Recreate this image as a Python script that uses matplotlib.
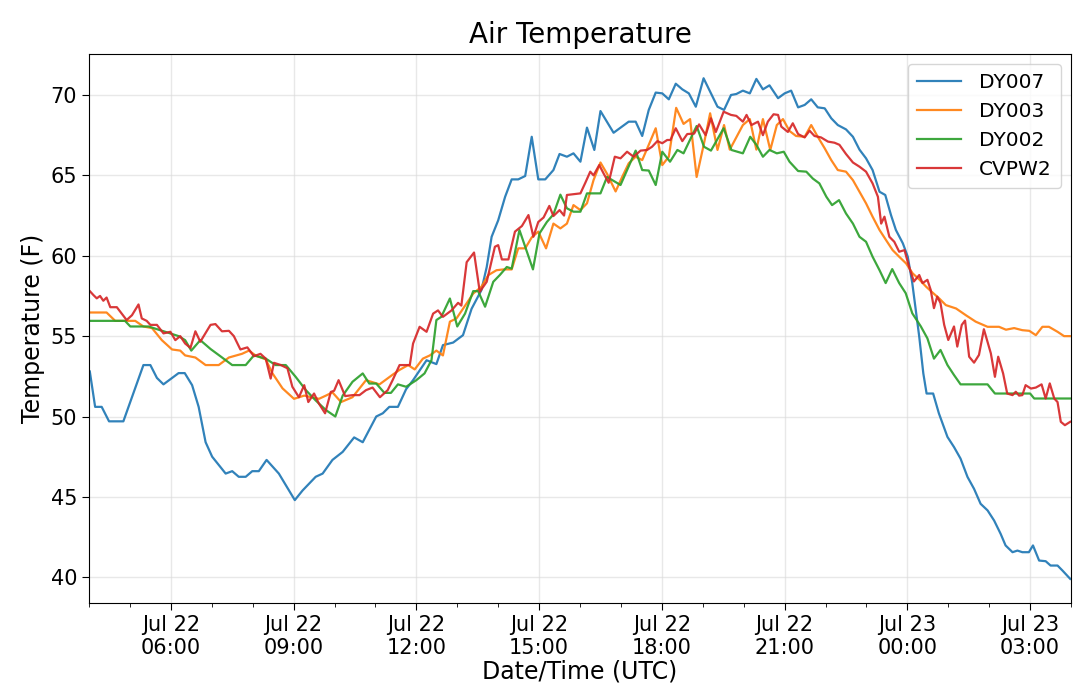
import matplotlib
matplotlib.use("Agg")
import matplotlib.pyplot as plt
import matplotlib.dates as mdates
import pandas as pd

BASE = pd.Timestamp("2019-07-22 00:00")

# hours since Jul 22 00:00 UTC, temperature (F)
dy007_h = [4.02,4.15,4.31,4.49,4.84,5.33,5.50,5.66,5.82,6.19,6.34,6.52,6.68,6.85,7.01,7.34,7.50,7.66,7.83,7.99,8.15,8.34,8.64,9.03,9.22,9.54,9.71,9.95,10.20,10.48,10.69,11.02,11.18,11.34,11.55,11.75,11.92,12.25,12.49,12.65,12.90,13.14,13.35,13.59,13.72,13.84,14.00,14.17,14.33,14.49,14.66,14.82,14.98,15.15,15.35,15.50,15.68,15.84,16.01,16.17,16.35,16.50,16.82,17.19,17.36,17.52,17.68,17.85,18.01,18.17,18.34,18.50,18.66,18.83,19.02,19.20,19.36,19.52,19.69,19.82,19.98,20.15,20.31,20.47,20.63,20.84,21.00,21.16,21.33,21.49,21.65,21.81,21.98,22.14,22.30,22.50,22.67,22.83,22.99,23.15,23.32,23.46,23.60,23.72,23.89,24.01,24.12,24.29,24.39,24.47,24.63,24.77,24.98,25.14,25.30,25.47,25.63,25.79,25.96,26.12,26.28,26.40,26.57,26.69,26.81,26.97,27.07,27.22,27.38,27.50,27.67,27.79,27.87,27.98]
dy007_v = [52.8,50.6,50.6,49.7,49.7,53.2,53.2,52.4,52.0,52.7,52.7,51.95,50.6,48.4,47.5,46.45,46.6,46.25,46.25,46.6,46.6,47.3,46.45,44.8,45.4,46.25,46.45,47.3,47.8,48.7,48.4,50.0,50.2,50.6,50.6,51.7,52.26,53.5,53.26,54.44,54.6,55.06,56.7,57.86,59.3,61.18,62.2,63.67,64.75,64.75,64.96,67.4,64.75,64.75,65.33,66.33,66.16,66.37,65.85,67.97,66.58,69.0,67.65,68.34,68.34,67.45,69.07,70.15,70.1,69.73,70.7,70.35,70.1,69.27,71.04,70.1,69.27,69.07,70.0,70.06,70.27,70.1,71.0,70.35,70.6,69.8,70.1,70.27,69.23,69.38,69.73,69.23,69.17,68.55,68.13,67.86,67.4,66.6,66.06,65.33,63.98,63.78,62.53,61.6,60.77,59.94,58.3,54.97,52.68,51.43,51.43,50.2,48.73,48.1,47.38,46.24,45.5,44.57,44.16,43.53,42.7,41.98,41.56,41.66,41.56,41.56,41.98,41.04,41.0,40.73,40.73,40.42,40.2,39.9]

dy003_h = [4.02,4.43,4.64,5.13,5.33,5.54,5.78,6.03,6.23,6.35,6.60,6.85,7.17,7.42,7.74,7.91,8.07,8.32,8.48,8.73,9.01,9.26,9.62,9.79,9.95,10.16,10.44,10.77,11.10,11.42,11.59,11.80,11.96,12.16,12.33,12.49,12.65,12.82,12.98,13.14,13.39,13.59,13.76,13.96,14.13,14.33,14.49,14.66,14.82,14.98,15.17,15.35,15.52,15.68,15.84,16.01,16.17,16.33,16.50,16.66,16.87,17.03,17.19,17.36,17.52,17.68,17.85,18.01,18.17,18.35,18.53,18.69,18.85,19.03,19.18,19.36,19.52,19.66,19.98,20.15,20.31,20.47,20.65,20.81,20.96,21.12,21.28,21.49,21.65,21.81,21.98,22.14,22.30,22.50,22.67,22.83,22.99,23.15,23.32,23.48,23.64,23.80,23.97,24.13,24.29,24.46,24.62,24.78,24.94,25.19,25.43,25.67,25.96,26.24,26.41,26.61,26.81,26.98,27.14,27.30,27.46,27.67,27.83,27.97]
dy003_v = [56.47,56.47,55.95,55.95,55.6,55.5,54.75,54.17,54.1,53.8,53.67,53.2,53.2,53.67,53.9,54.1,53.8,53.55,52.7,51.75,51.1,51.3,51.1,51.3,51.5,50.9,51.2,52.26,52.0,52.6,52.9,53.2,52.93,53.6,53.8,54.1,53.8,55.9,56.1,56.7,57.65,58.07,58.8,59.1,59.15,59.15,60.46,60.46,61.14,61.5,60.46,62.0,61.7,62.0,63.15,62.84,63.26,64.7,65.8,65.1,64.0,64.9,65.75,66.16,65.95,66.9,67.93,65.64,66.16,69.2,68.2,68.5,64.9,66.99,68.86,66.58,68.13,66.6,68.13,68.5,66.6,68.5,66.58,68.13,68.5,67.76,67.45,67.4,68.13,67.4,66.68,65.95,65.33,65.23,64.7,63.98,63.26,62.43,61.6,60.97,60.35,59.94,59.52,58.9,58.53,58.07,57.7,57.34,56.93,56.72,56.3,55.9,55.58,55.58,55.4,55.5,55.37,55.33,55.06,55.58,55.58,55.27,55.0,55.0]

dy002_h = [4.02,4.88,5.01,5.46,5.70,5.95,6.19,6.35,6.50,6.72,6.97,7.21,7.50,7.83,8.03,8.32,8.56,8.81,9.05,9.30,9.54,9.79,10.02,10.20,10.44,10.69,10.85,11.02,11.22,11.38,11.55,11.75,12.00,12.20,12.37,12.49,12.61,12.82,13.00,13.19,13.39,13.51,13.68,13.88,14.04,14.21,14.33,14.52,14.85,15.01,15.19,15.35,15.52,15.68,15.84,16.01,16.17,16.50,16.66,16.99,17.36,17.52,17.68,17.85,18.01,18.20,18.38,18.53,18.85,19.03,19.20,19.51,19.70,19.98,20.16,20.31,20.47,20.63,20.81,20.98,21.12,21.33,21.53,21.69,21.85,22.02,22.16,22.33,22.50,22.67,22.83,22.99,23.15,23.32,23.47,23.63,23.80,23.96,24.12,24.33,24.49,24.65,24.81,24.98,25.14,25.30,25.96,26.14,27.00,27.10,27.98]
dy002_v = [55.95,55.95,55.6,55.6,55.4,55.2,55.0,54.75,54.1,54.75,54.2,53.75,53.2,53.2,53.8,53.6,53.2,53.2,52.47,51.64,51.0,50.4,50.0,51.3,52.16,52.68,52.05,52.05,51.47,51.47,52.0,51.85,52.26,52.68,53.5,56.0,56.2,57.34,55.6,56.4,57.8,57.8,56.83,58.38,58.8,59.3,59.2,61.6,59.15,61.39,62.1,62.57,63.8,62.95,62.74,62.74,63.88,63.88,64.9,64.4,66.54,65.33,65.3,64.4,66.47,65.85,66.58,66.37,68.07,66.78,66.54,67.93,66.58,66.37,67.4,66.9,66.16,66.58,66.37,66.47,65.85,65.27,65.23,64.8,64.5,63.67,63.15,63.46,62.63,62.0,61.18,60.87,59.94,59.1,58.3,59.17,58.3,57.67,56.42,55.6,54.86,53.6,54.14,53.2,52.58,52.0,52.0,51.43,51.43,51.12,51.12]

cvpw2_h = [4.02,4.11,4.19,4.27,4.35,4.43,4.52,4.68,4.80,4.92,5.05,5.21,5.29,5.41,5.50,5.66,5.82,5.99,6.11,6.23,6.35,6.48,6.60,6.72,6.97,7.09,7.25,7.42,7.54,7.70,7.87,8.03,8.19,8.32,8.44,8.52,8.69,8.85,8.97,9.13,9.26,9.36,9.50,9.62,9.77,9.91,9.99,10.10,10.26,10.44,10.61,10.77,10.93,11.11,11.30,11.42,11.59,11.84,11.92,12.08,12.25,12.41,12.53,12.65,12.86,13.02,13.10,13.23,13.41,13.55,13.72,13.92,14.00,14.09,14.25,14.41,14.58,14.74,14.86,14.98,15.11,15.25,15.35,15.50,15.61,15.68,16.01,16.13,16.25,16.33,16.47,16.58,16.70,16.85,16.99,17.15,17.31,17.48,17.64,17.76,17.89,18.01,18.13,18.21,18.34,18.50,18.62,18.79,18.91,19.07,19.20,19.32,19.51,19.69,19.82,19.98,20.07,20.19,20.35,20.47,20.59,20.73,20.84,20.92,21.08,21.20,21.33,21.49,21.61,21.73,21.89,22.06,22.22,22.34,22.50,22.67,22.83,22.99,23.15,23.28,23.36,23.44,23.56,23.68,23.80,23.93,24.04,24.16,24.29,24.37,24.49,24.57,24.65,24.73,24.81,24.90,25.00,25.14,25.22,25.33,25.41,25.51,25.63,25.75,25.87,26.04,26.14,26.22,26.34,26.44,26.57,26.65,26.73,26.81,26.89,27.02,27.14,27.28,27.38,27.48,27.59,27.67,27.75,27.85,27.98]
cvpw2_v = [57.8,57.55,57.35,57.5,57.2,57.4,56.8,56.8,56.4,56.0,56.3,56.97,56.1,55.95,55.7,55.7,55.17,55.27,54.75,55.0,54.54,54.27,55.3,54.65,55.7,55.75,55.3,55.33,55.0,54.17,54.3,53.75,53.9,53.6,52.36,53.34,53.2,53.0,51.85,51.2,51.95,50.9,51.43,50.8,50.2,51.53,51.6,52.26,51.27,51.33,51.33,51.64,51.8,51.2,51.64,52.26,53.2,53.2,54.54,55.58,55.27,56.4,56.6,56.2,56.6,57.07,56.9,59.6,60.2,57.76,58.38,60.56,60.66,59.77,59.77,61.5,61.85,62.53,61.18,62.1,62.38,63.1,62.47,62.84,62.5,63.78,63.88,64.54,65.23,65.0,65.64,65.1,64.54,66.16,66.06,66.47,66.16,66.54,66.58,66.78,67.13,67.0,67.2,67.2,67.93,67.13,67.57,67.6,68.17,67.5,68.55,67.7,68.96,68.76,68.7,68.34,68.76,68.13,68.34,67.5,68.34,68.8,68.76,68.03,67.7,68.24,67.57,67.36,67.78,67.45,67.36,67.1,67.03,66.9,66.33,65.8,65.54,65.23,64.5,63.67,62.0,62.43,61.18,60.87,60.25,60.35,59.33,58.4,58.8,58.3,58.5,57.88,56.74,57.46,57.05,55.7,54.76,55.6,54.35,55.7,55.97,53.72,53.35,53.83,55.43,53.93,52.47,53.72,52.68,51.43,51.33,51.54,51.3,51.33,51.95,51.74,51.8,52.0,51.12,52.06,51.12,50.9,49.67,49.46,49.67]

series_names = ["DY007", "DY003", "DY002", "CVPW2"]
series_hours = [dy007_h, dy003_h, dy002_h, cvpw2_h]
series_vals = [dy007_v, dy003_v, dy002_v, cvpw2_v]
colors = ["#1f77b4", "#ff7f0e", "#2ca02c", "#d62728"]

x_start_h, x_end_h = 4.0, 28.0
y_min, y_max = 38.4, 72.55

fig = plt.figure(figsize=(10.8, 6.86), dpi=100)
ax = fig.add_axes([0.0824, 0.121, 0.9093, 0.8003])

for name, hrs, vals, c in zip(series_names, series_hours, series_vals, colors):
    t = BASE + pd.to_timedelta(hrs, unit="h")
    ax.plot(t, vals, color=c, lw=1.6, alpha=0.92, label=name)

ax.set_xlim(BASE + pd.Timedelta(hours=x_start_h), BASE + pd.Timedelta(hours=x_end_h))
ax.set_ylim(y_min, y_max)
ax.set_yticks([40, 45, 50, 55, 60, 65, 70])

ax.xaxis.set_major_locator(mdates.HourLocator(byhour=[0, 3, 6, 9, 12, 15, 18, 21]))
ax.xaxis.set_minor_locator(mdates.HourLocator())
ax.xaxis.set_major_formatter(mdates.DateFormatter("%b %d\n%H:%M"))

ax.grid(True, which="major", color="#d9d9d9", lw=1.0, alpha=0.6)
ax.tick_params(axis="both", which="major", labelsize=15, length=5)
ax.tick_params(axis="x", which="minor", length=3)

ax.set_title("Air Temperature", fontsize=20, pad=8)
ax.set_xlabel("Date/Time (UTC)", fontsize=17, labelpad=1)
ax.set_ylabel("Temperature (F)", fontsize=17)

ax.legend(loc="upper right", fontsize=14.5, handlelength=2.2, handletextpad=0.9,
          borderpad=0.45, borderaxespad=0.5)

fig.savefig("out.png", dpi=100)
